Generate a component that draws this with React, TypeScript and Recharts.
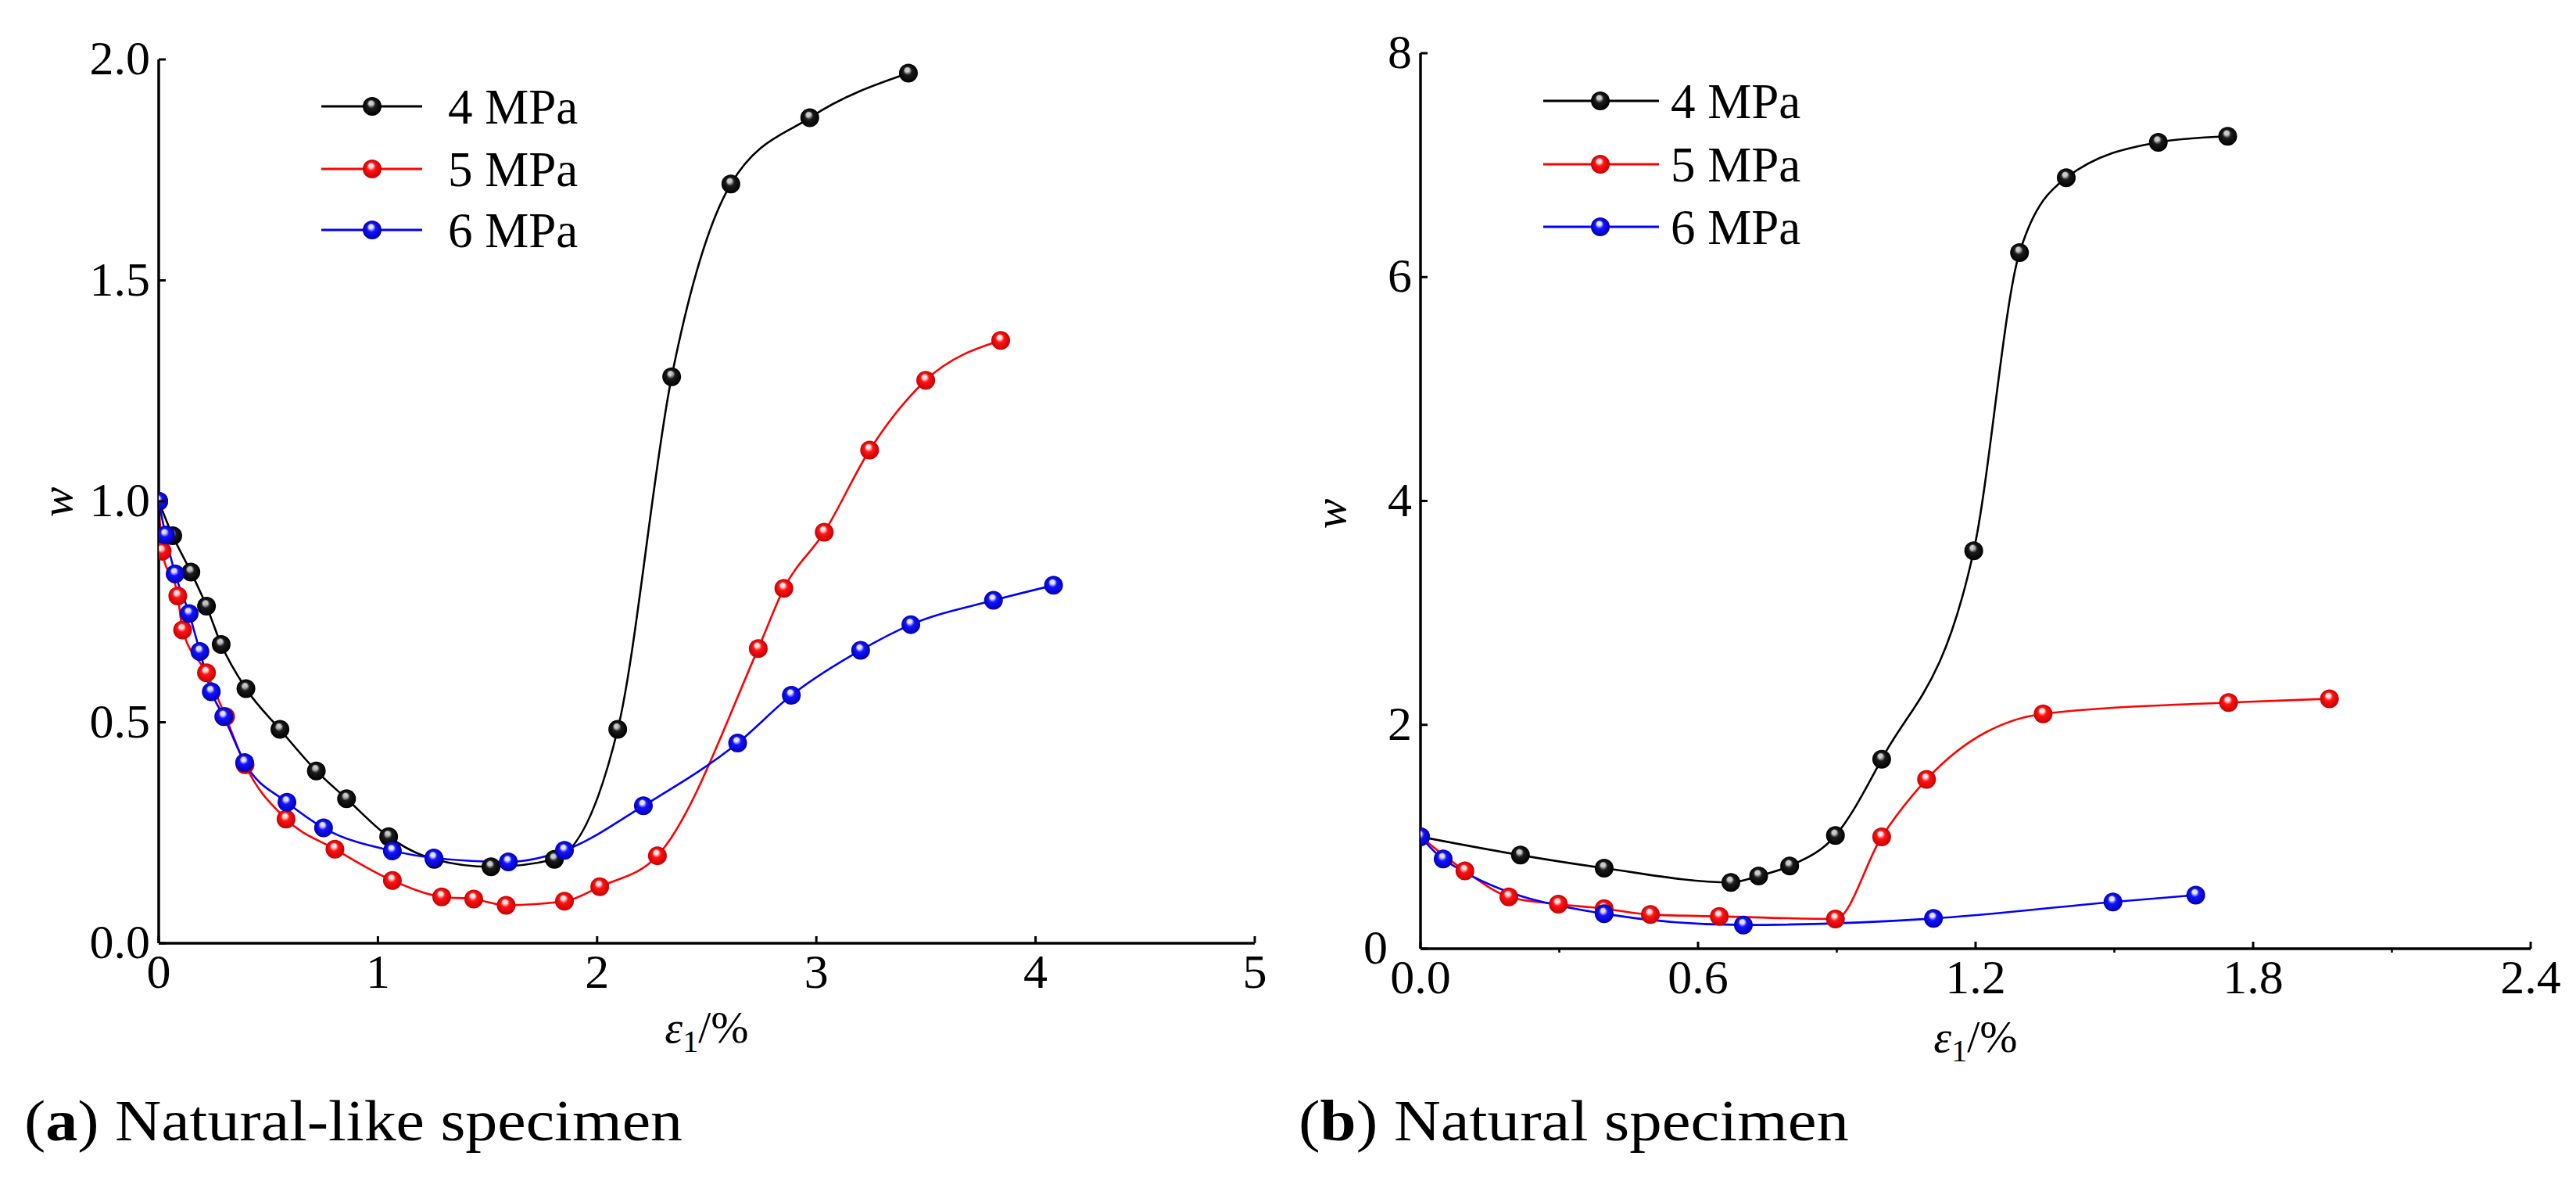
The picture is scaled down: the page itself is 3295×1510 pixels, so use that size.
import React from 'react';
import { LineChart, Line, XAxis, YAxis, Legend } from 'recharts';

// (a) Natural-like specimen: strain eps1 (%) and w, one pair per confining pressure
const A_X_4MPA = [0, 0.064, 0.147, 0.218, 0.285, 0.398, 0.553, 0.719, 0.857, 1.049, 1.257, 1.516, 1.805, 2.094, 2.34, 2.61, 2.97, 3.42];
const A_W_4MPA = [1.0, 0.922, 0.84, 0.763, 0.676, 0.576, 0.484, 0.39, 0.327, 0.241, 0.19, 0.173, 0.19, 0.484, 1.282, 1.718, 1.868, 1.969];
const A_X_5MPA = [0, 0.016, 0.087, 0.109, 0.218, 0.305, 0.394, 0.581, 0.804, 1.066, 1.291, 1.437, 1.585, 1.851, 2.012, 2.275, 2.735, 2.852, 3.036, 3.243, 3.499, 3.841];
const A_W_5MPA = [1.0, 0.887, 0.786, 0.709, 0.612, 0.513, 0.404, 0.281, 0.213, 0.142, 0.105, 0.1, 0.086, 0.095, 0.128, 0.198, 0.667, 0.803, 0.93, 1.116, 1.274, 1.364];
const A_X_6MPA = [0, 0.031, 0.075, 0.139, 0.188, 0.24, 0.297, 0.392, 0.585, 0.752, 1.066, 1.255, 1.595, 1.851, 2.211, 2.641, 2.886, 3.202, 3.431, 3.808, 4.082];
const A_W_6MPA = [1.0, 0.924, 0.836, 0.746, 0.66, 0.569, 0.513, 0.409, 0.319, 0.261, 0.209, 0.193, 0.184, 0.21, 0.311, 0.453, 0.561, 0.663, 0.721, 0.776, 0.81];

// (b) Natural specimen
const B_X_4MPA = [0, 0.216, 0.397, 0.671, 0.731, 0.798, 0.897, 0.997, 1.196, 1.295, 1.396, 1.595, 1.745];
const B_W_4MPA = [1.0, 0.836, 0.72, 0.592, 0.65, 0.739, 1.011, 1.693, 3.555, 6.219, 6.887, 7.204, 7.258];
const B_X_5MPA = [0, 0.096, 0.191, 0.298, 0.397, 0.497, 0.646, 0.897, 0.997, 1.094, 1.346, 1.747, 1.965];
const B_W_5MPA = [1.0, 0.695, 0.463, 0.398, 0.358, 0.305, 0.289, 0.266, 0.999, 1.512, 2.098, 2.199, 2.233];
const B_X_6MPA = [0, 0.049, 0.397, 0.698, 1.109, 1.497, 1.676];
const B_W_6MPA = [1.0, 0.801, 0.312, 0.212, 0.27, 0.418, 0.479];

const SERIES_NAMES = ['4 MPa', '5 MPa', '6 MPa'];
const A_X_TICKS = [0, 1, 2, 3, 4, 5];
const A_Y_TICKS = [0, 0.5, 1, 1.5, 2];
const B_X_TICKS = [0, 0.3, 0.6, 0.9, 1.2, 1.5, 1.8, 2.1, 2.4];
const B_X_MAJOR = [0, 0.6, 1.2, 1.8, 2.4];
const B_Y_TICKS = [0, 2, 4, 6, 8];

const COLORS = ['#000000', '#ff0000', '#0000ff'];
const BALL = [
  { hi: '#c8c8c8', base: '#1c1c1c', edge: '#000000' },
  { hi: '#ffe4e4', base: '#ff1414', edge: '#c80000' },
  { hi: '#e4e4ff', base: '#1414ff', edge: '#0000b4' },
];

const FONT = '"Liberation Serif", "Times New Roman", serif';

const zip = (xs: number[], ws: number[]) => xs.map((x, i) => ({ x, w: ws[i] }));

const aSeries = [zip(A_X_4MPA, A_W_4MPA), zip(A_X_5MPA, A_W_5MPA), zip(A_X_6MPA, A_W_6MPA)];
const bSeries = [zip(B_X_4MPA, B_W_4MPA), zip(B_X_5MPA, B_W_5MPA), zip(B_X_6MPA, B_W_6MPA)];

function BallDefs({ prefix }: { prefix: string }) {
  return (
    <defs>
      {BALL.map((b, i) => (
        <radialGradient key={i} id={`${prefix}-ball-${i}`} cx="50%" cy="50%" r="50%" fx="42%" fy="28%">
          <stop offset="0%" stopColor={b.hi} />
          <stop offset="22%" stopColor={b.hi} stopOpacity={0.9} />
          <stop offset="45%" stopColor={b.base} />
          <stop offset="100%" stopColor={b.edge} />
        </radialGradient>
      ))}
    </defs>
  );
}

const ballDot = (fillId: string) => (props: any) => {
  const { cx, cy, index } = props;
  if (cx == null || cy == null) return <g key={`${fillId}-${index}`} />;
  return <circle key={`${fillId}-${index}`} cx={cx} cy={cy} r={12} fill={`url(#${fillId})`} />;
};

const makeXTick = (fmt: (v: number) => string, isMajor: (v: number) => boolean, labelDy: number) => (props: any) => {
  const { x, y, payload } = props;
  const v = payload.value;
  if (!isMajor(v)) {
    return <line x1={x} y1={y} x2={x} y2={y + 5} stroke="#000" strokeWidth={2.5} />;
  }
  return (
    <g>
      <line x1={x} y1={y} x2={x} y2={y - 9} stroke="#000" strokeWidth={3} />
      <text x={x} y={y + labelDy} textAnchor="middle" fontFamily={FONT} fontSize={62} fill="#000">
        {fmt(v)}
      </text>
    </g>
  );
};

// zeroGap pushes the label at the origin further left so it clears the x-axis "0.0"
const makeYTick = (fmt: (v: number) => string, zeroGap = 11) => (props: any) => {
  const { x, y, payload } = props;
  const gap = payload.value === 0 ? zeroGap : 11;
  return (
    <g>
      <line x1={x} y1={y} x2={x + 9} y2={y} stroke="#000" strokeWidth={3} />
      <text x={x - gap} y={y + 19} textAnchor="end" fontFamily={FONT} fontSize={62} fill="#000">
        {fmt(payload.value)}
      </text>
    </g>
  );
};

interface LegendLayout {
  prefix: string;
  rows: number[];
  lineX1: number;
  lineX2: number;
  ballX: number;
  textX: number;
}

function BallLegend({ prefix, rows, lineX1, lineX2, ballX, textX }: LegendLayout) {
  const left = lineX1 - 10;
  const top = rows[0] - 50;
  return (
    <svg width={420} height={rows[2] - rows[0] + 100} style={{ overflow: 'visible', display: 'block' }}>
      <g transform={`translate(${-left},${-top})`}>
        {SERIES_NAMES.map((name, i) => (
          <g key={name}>
            <line x1={lineX1} y1={rows[i]} x2={lineX2} y2={rows[i]} stroke={COLORS[i]} strokeWidth={3} />
            <circle cx={ballX} cy={rows[i]} r={12} fill={`url(#${prefix}-ball-${i})`} />
            <text x={textX} y={rows[i] + 22} fontFamily={FONT} fontSize={63} fill="#000">
              {name}
            </text>
          </g>
        ))}
      </g>
    </svg>
  );
}

interface PanelProps {
  prefix: string;
  width: number;
  margin: { top: number; right: number; bottom: number; left: number };
  series: { x: number; w: number }[][];
  xDomain: [number, number];
  xTicks: number[];
  xFmt: (v: number) => string;
  xMajor: (v: number) => boolean;
  xLabelDy: number;
  yDomain: [number, number];
  yTicks: number[];
  yFmt: (v: number) => string;
  yZeroGap?: number;
  legend: LegendLayout;
}

function Panel(p: PanelProps) {
  return (
    <LineChart width={p.width} height={1510} margin={p.margin}>
      <BallDefs prefix={p.prefix} />
      <XAxis
        type="number"
        dataKey="x"
        domain={p.xDomain}
        ticks={p.xTicks}
        interval={0}
        height={100}
        tickSize={0}
        tickMargin={0}
        tickLine={false}
        axisLine={{ stroke: '#000', strokeWidth: 3.5 }}
        tick={makeXTick(p.xFmt, p.xMajor, p.xLabelDy)}
        allowDataOverflow
      />
      <YAxis
        type="number"
        dataKey="w"
        domain={p.yDomain}
        ticks={p.yTicks}
        interval={0}
        width={100}
        tickSize={0}
        tickMargin={0}
        tickLine={false}
        axisLine={{ stroke: '#000', strokeWidth: 3.5 }}
        tick={makeYTick(p.yFmt, p.yZeroGap)}
      />
      <Legend
        layout="vertical"
        align="center"
        verticalAlign="middle"
        wrapperStyle={{
          left: p.legend.lineX1 - 10,
          top: p.legend.rows[0] - 50,
          width: 420,
          height: p.legend.rows[2] - p.legend.rows[0] + 100,
        }}
        content={() => <BallLegend {...p.legend} />}
      />
      {p.series.map((data, i) => (
        <Line
          key={SERIES_NAMES[i]}
          name={SERIES_NAMES[i]}
          data={data}
          dataKey="w"
          type="monotone"
          stroke={COLORS[i]}
          strokeWidth={2.6}
          dot={ballDot(`${p.prefix}-ball-${i}`)}
          activeDot={false}
          isAnimationActive={false}
        />
      ))}
    </LineChart>
  );
}

function EpsTitle({ cx, y }: { cx: number; y: number }) {
  return (
    <text x={cx} y={y} textAnchor="middle" fontFamily={FONT} fontSize={58} fill="#000">
      <tspan fontStyle="italic">ε</tspan>
      <tspan fontSize={40} dy={12}>1</tspan>
      <tspan dy={-12}>/%</tspan>
    </text>
  );
}

function WTitle({ x, y }: { x: number; y: number }) {
  return (
    <text
      transform={`translate(${x},${y}) rotate(-90)`}
      textAnchor="middle"
      fontFamily={FONT}
      fontStyle="italic"
      fontSize={58}
      fill="#000"
    >
      w
    </text>
  );
}

export default function App() {
  return (
    <div
      style={{
        position: 'absolute',
        left: 0,
        top: 0,
        width: 3295,
        height: 1510,
        background: '#ffffff',
        overflow: 'hidden',
      }}
    >
      <div style={{ position: 'absolute', left: 0, top: 0 }}>
        <Panel
          prefix="pa"
          width={1650}
          margin={{ top: 76, right: 45, bottom: 204, left: 103 }}
          series={aSeries}
          xDomain={[0, 5]}
          xTicks={A_X_TICKS}
          xFmt={(v) => String(v)}
          xMajor={() => true}
          xLabelDy={57}
          yDomain={[0, 2]}
          yTicks={A_Y_TICKS}
          yFmt={(v) => v.toFixed(1)}
          legend={{ prefix: 'pa', rows: [136, 216, 294], lineX1: 411, lineX2: 540, ballX: 476, textX: 573 }}
        />
      </div>
      <div style={{ position: 'absolute', left: 1650, top: 0 }}>
        <Panel
          prefix="pb"
          width={1645}
          margin={{ top: 68, right: 58, bottom: 197, left: 67 }}
          series={bSeries}
          xDomain={[0, 2.4]}
          xTicks={B_X_TICKS}
          xFmt={(v) => v.toFixed(1)}
          xMajor={(v) => B_X_MAJOR.some((m) => Math.abs(m - v) < 1e-6)}
          xLabelDy={57}
          yDomain={[0, 8]}
          yTicks={B_Y_TICKS}
          yFmt={(v) => String(v)}
          yZeroGap={42}
          legend={{ prefix: 'pb', rows: [129, 210, 290], lineX1: 324, lineX2: 472, ballX: 397, textX: 487 }}
        />
      </div>
      <svg
        width={3295}
        height={1510}
        style={{ position: 'absolute', left: 0, top: 0, pointerEvents: 'none' }}
      >
        <WTitle x={92} y={642} />
        <WTitle x={1721} y={657} />
        <EpsTitle cx={904} y={1333} />
        <EpsTitle cx={2527} y={1345} />
        <text x={31} y={1458} fontFamily={FONT} fontSize={73} fill="#000" textLength={842} lengthAdjust="spacingAndGlyphs">
          (<tspan fontWeight="bold">a</tspan>) Natural-like specimen
        </text>
        <text x={1661} y={1458} fontFamily={FONT} fontSize={73} fill="#000" textLength={704} lengthAdjust="spacingAndGlyphs">
          (<tspan fontWeight="bold">b</tspan>) Natural specimen
        </text>
      </svg>
    </div>
  );
}
